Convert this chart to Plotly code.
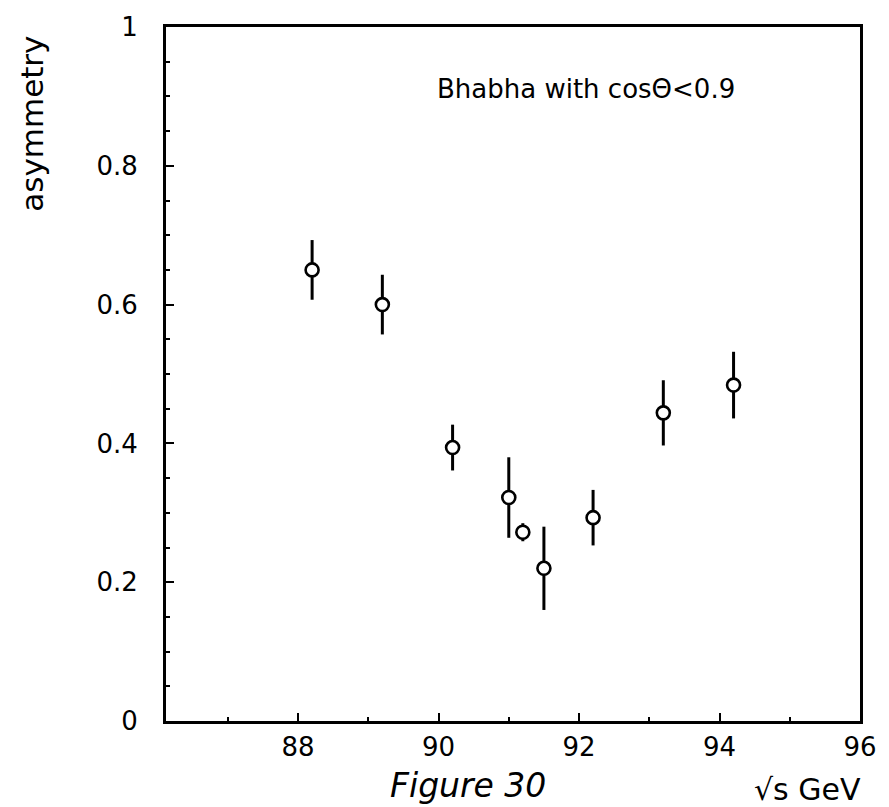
import plotly.graph_objects as go

# data
energy = [88.2, 89.2, 90.2, 91.0, 91.2, 91.5, 92.2, 93.2, 94.2]
asym = [0.650, 0.600, 0.394, 0.322, 0.272, 0.220, 0.293, 0.444, 0.484]
asym_err = [0.043, 0.043, 0.033, 0.058, 0.013, 0.060, 0.040, 0.047, 0.048]

x_ticks = [88, 90, 92, 94, 96]
y_ticks = [0, 0.2, 0.4, 0.6, 0.8, 1]
y_tick_text = ["0", "0.2", "0.4", "0.6", "0.8", "1"]

FONT = "DejaVu Sans"
W, H = 889, 807
L, R, T, B = 166, 18, 17, 86

fig = go.Figure()
fig.add_trace(go.Scatter(
    x=energy, y=asym, mode="markers",
    marker=dict(symbol="circle", size=13, color="white",
                line=dict(color="black", width=2.6)),
    error_y=dict(type="data", array=asym_err, visible=True,
                 color="black", thickness=3, width=0),
    showlegend=False, hoverinfo="skip",
))

axis_common = dict(
    showline=True, linecolor="black", linewidth=2.8, mirror=True,
    ticks="inside", tickcolor="black", tickwidth=2,
    showgrid=False, zeroline=False,
    tickfont=dict(family=FONT, size=26, color="black"),
)

fig.update_xaxes(
    range=[86.12, 96], tickvals=x_ticks, ticklen=8,
    minor=dict(dtick=1, tick0=86, ticks="inside", ticklen=4, tickwidth=1.5,
               tickcolor="black", showgrid=False),
    ticklabelstandoff=1,
    **axis_common,
)
fig.update_yaxes(
    range=[0, 1], tickvals=y_ticks, ticktext=y_tick_text, ticklen=8,
    minor=dict(dtick=0.05, tick0=0, ticks="inside", ticklen=4, tickwidth=1.5,
               tickcolor="black", showgrid=False),
    ticklabelstandoff=20,
    **axis_common,
)

pw = W - L - R
ph = H - T - B

def px(xp):
    return (xp - L) / pw

def py(yp):
    return (H - B - yp) / ph

annotations = [
    dict(text="Bhabha with cosΘ&lt;0.9", x=px(593), y=py(80),
         font=dict(family=FONT, size=26, color="black")),
    dict(text="asymmetry", x=px(29), y=py(115), textangle=-90,
         font=dict(family=FONT, size=31, color="black")),
    dict(text="√s GeV", x=px(818), y=py(790),
         font=dict(family=FONT, size=30, color="black")),
    dict(text="<i>Figure 30</i>", x=px(473), y=py(786),
         font=dict(family=FONT, size=33, color="black")),
]
for a in annotations:
    a.update(xref="paper", yref="paper", showarrow=False,
             xanchor="center", yanchor="middle")
fig.update_layout(
    width=W, height=H,
    margin=dict(l=L, r=R, t=T, b=B),
    paper_bgcolor="white", plot_bgcolor="white",
    annotations=annotations,
)

fig.write_html("out.html")
